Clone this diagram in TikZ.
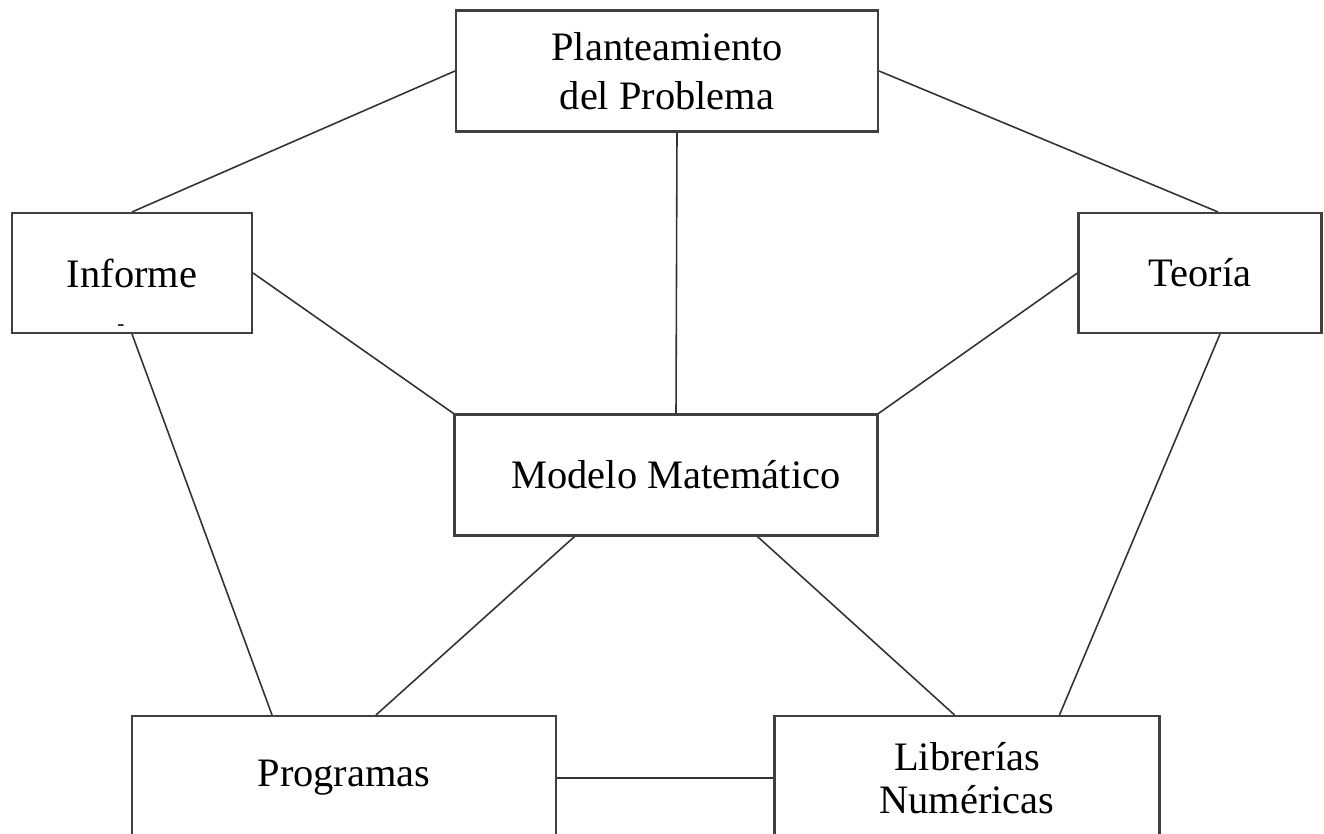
\documentclass[tikz,border=0pt]{standalone}
\usepackage{fontspec}
\setmainfont{Liberation Serif}
\usepackage{tikz}
\usetikzlibrary{shapes.geometric}

\begin{document}
\begin{tikzpicture}[x=0.02cm,y=-0.02cm,draw=black!80]
      \tikzstyle{line} = [line width=0.9pt]
      \tikzstyle{box} = [rectangle, draw=black!75, line width=1.2pt, fill=white, align=center, inner sep=0pt, font=\fontsize{23}{28}\selectfont]
      \clip (0,0) rectangle (1324,834);
      \fill[white] (0,0) rectangle (1324,834);
      \path[] node[box, minimum width=8.44cm, minimum height=2.42cm] (plant) at (667,71) {Planteamiento\\del Problema};
      \path[] node[box, minimum width=4.8cm, minimum height=2.4cm] (informe) at (132,273) {Informe};
      \path[] node[box, minimum width=4.86cm, minimum height=2.4cm] (teoria) at (1200,273) {Teoría};
      \path[] node[box, minimum width=8.46cm, minimum height=2.42cm] (modelo) at (666,475) {};
      \node (modelo-text) [font=\fontsize{23}{28}\selectfont] at (676,475) {Modelo Matemático};
      \path[] node[box, minimum width=8.48cm, minimum height=2.48cm] (programas) at (344,778) {Programas};
      \path[] node[box, minimum width=7.7cm, minimum height=2.48cm, font=\fontsize{23}{24.5}\selectfont] (librerias) at (967,778) {Librerías\\Numéricas};
      \node (marca) [inner sep=0pt, font=\fontsize{12}{12}\selectfont] at (121,328) {-};
      \draw [line] (plant.west) -- (informe.north);
      \draw [line] (plant.east) -- ([xshift=0.36cm]teoria.north);
      \draw [line] ([xshift=0.2cm]plant.south) -- ([xshift=0.2cm]modelo.north);
      \draw [line] (informe.east) -- (modelo.north west);
      \draw [line] (teoria.west) -- (modelo.north east);
      \draw [line] (informe.south) -- ([xshift=-1.44cm]programas.north);
      \draw [line] ([xshift=0.4cm]teoria.south) -- ([xshift=1.85cm]librerias.north);
      \draw [line] ([xshift=-1.83cm]modelo.south) -- ([xshift=0.64cm]programas.north);
      \draw [line] ([xshift=1.83cm]modelo.south) -- ([xshift=-0.25cm]librerias.north);
      \draw [line] (programas.east) -- (librerias.west);
  \end{tikzpicture}
\end{document}
